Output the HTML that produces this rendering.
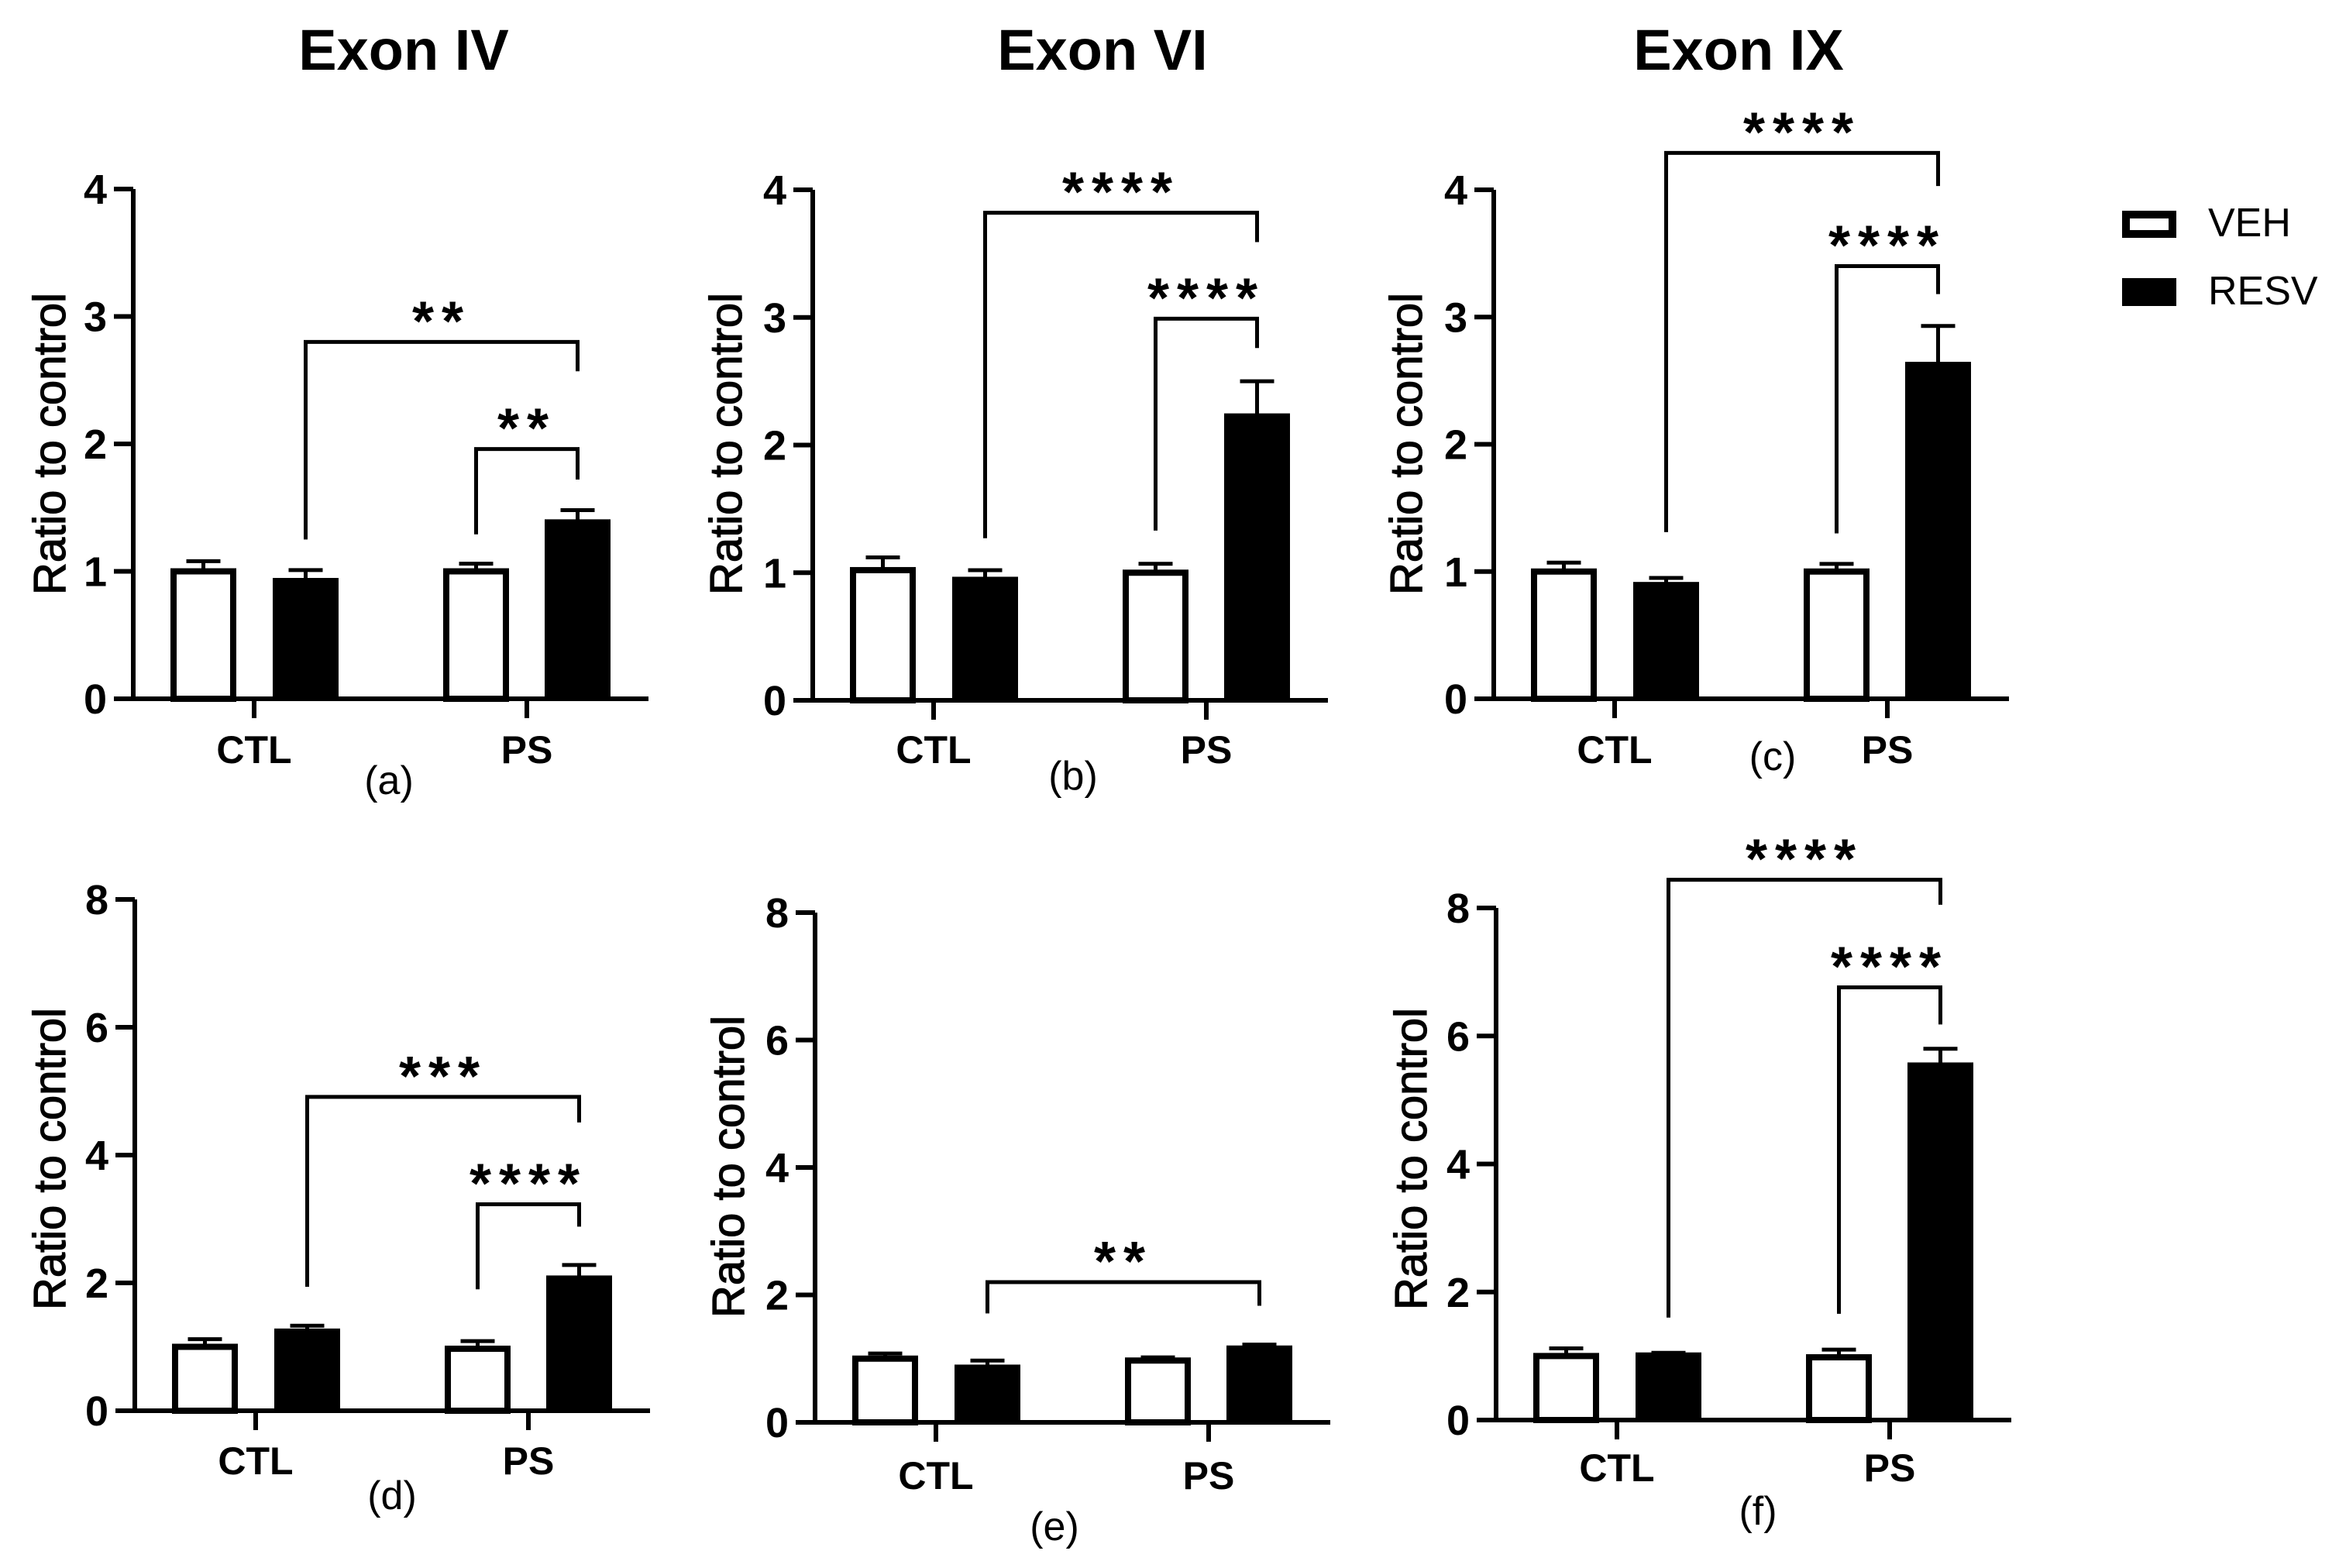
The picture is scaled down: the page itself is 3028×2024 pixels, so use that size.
<!DOCTYPE html>
<html><head><meta charset="utf-8">
<style>
html,body{margin:0;padding:0;background:#fff;}
svg{display:block;font-family:"Liberation Sans",Arial,sans-serif;}
</style></head>
<body>
<svg id="fig" width="3028" height="2024" viewBox="0 0 3028 2024" xmlns="http://www.w3.org/2000/svg">
<text x="521" y="90" font-size="74" font-weight="bold" text-anchor="middle">Exon IV</text>
<text x="1423" y="90" font-size="74" font-weight="bold" text-anchor="middle">Exon VI</text>
<text x="2244" y="90" font-size="74" font-weight="bold" text-anchor="middle">Exon IX</text>
<g>
<rect x="2744" y="277" width="60" height="25" fill="#fff" stroke="#000" stroke-width="10"/>
<text x="2850" y="305" font-size="52">VEH</text>
<rect x="2739" y="359" width="70" height="36" fill="#000"/>
<text x="2850" y="393" font-size="52">RESV</text>
</g>
</svg>
<script>
// Panel data
const categories = ["CTL", "PS"];
const panelIds = ["a", "b", "c", "d", "e", "f"];
const vehValues = [[1.0, 1.0], [1.02, 1.0], [1.0, 1.0], [1.0, 0.97], [1.0, 0.97], [1.0, 0.98]];
const vehErrors = [[0.08, 0.06], [0.1, 0.07], [0.07, 0.06], [0.12, 0.12], [0.08, 0.05], [0.12, 0.12]];
const resvValues = [[0.93, 1.39], [0.95, 2.23], [0.9, 2.63], [1.25, 2.08], [0.87, 1.17], [1.02, 5.55]];
const resvErrors = [[0.08, 0.09], [0.07, 0.27], [0.05, 0.3], [0.08, 0.2], [0.1, 0.05], [0.03, 0.25]];
const yMaxes = [4, 4, 4, 8, 8, 8];
const yTickLabels = [[0,1,2,3,4],[0,1,2,3,4],[0,1,2,3,4],[0,2,4,6,8],[0,2,4,6,8],[0,2,4,6,8]];
// brackets: [fromBar, toBar, topValue, leftBottomValue, rightBottomValue, label]; bars: 0 VEH-CTL,1 RESV-CTL,2 VEH-PS,3 RESV-PS
const bracketsA = [[1,3,2.8,1.25,2.57,"**"],[2,3,1.96,1.29,1.72,"**"]];
const bracketsB = [[1,3,3.82,1.27,3.59,"****"],[2,3,2.99,1.33,2.76,"****"]];
const bracketsC = [[1,3,4.29,1.31,4.03,"****"],[2,3,3.4,1.3,3.18,"****"]];
const bracketsD = [[1,3,4.91,1.94,4.51,"***"],[2,3,3.23,1.9,2.88,"****"]];
const bracketsE = [[1,3,2.2,1.71,1.83,"**"]];
const bracketsF = [[1,3,8.44,1.6,8.05,"****"],[2,3,6.76,1.66,6.18,"****"]];
const allBrackets = [bracketsA, bracketsB, bracketsC, bracketsD, bracketsE, bracketsF];

// layout (not data)
const layout = [
 {ax:172, y0:902, yt:244, lab:[502,1025], ylx:64, yly:573, cy:985},
 {ax:1049, y0:904, yt:245, lab:[1385,1019], ylx:937, yly:573, cy:985},
 {ax:1928, y0:902, yt:245, lab:[2288,994], ylx:1815, yly:573, cy:985},
 {ax:174, y0:1821, yt:1161, lab:[506,1948], ylx:64, yly:1496, cy:1903},
 {ax:1052, y0:1836, yt:1178, lab:[1361,1988], ylx:940, yly:1506, cy:1922},
 {ax:1931, y0:1833, yt:1172, lab:[2269,1968], ylx:1821, yly:1496, cy:1912}
];
const barOffsets = [48, 180, 400, 531];
const barW = 85;
const catOffsets = [156, 508];
const NS = "http://www.w3.org/2000/svg";
const svg = document.getElementById("fig");
function mk(tag, attrs, parent){
  const e = document.createElementNS(NS, tag);
  for (const k in attrs) e.setAttribute(k, attrs[k]);
  (parent||svg).appendChild(e);
  return e;
}
panelIds.forEach((pid, i) => {
  const L = layout[i];
  const yScale = v => L.y0 - v / yMaxes[i] * (L.y0 - L.yt);
  const xBar = b => L.ax + barOffsets[b];
  const g = mk("g", {});
  
  
  const vals = [vehValues[i][0], resvValues[i][0], vehValues[i][1], resvValues[i][1]];
  const errs = [vehErrors[i][0], resvErrors[i][0], vehErrors[i][1], resvErrors[i][1]];
  vals.forEach((v, b) => {
    const isVeh = b % 2 === 0;
    const x = xBar(b), yv = yScale(v);
    const cx = x + barW / 2;
    const ye = yScale(v + errs[b]);
    const eb = mk("path", {d:`M${cx},${yScale(v - (isVeh?errs[b]:0))}V${ye}M${cx-22},${ye}H${cx+22}` + (isVeh?`M${cx-22},${yScale(v-errs[b])}H${cx+22}`:""), stroke:"#000", "stroke-width":5, fill:"none"}, g);
    
    
    let r;
    if (isVeh) r = mk("rect", {x:x+4, y:yv, width:barW-8, height:L.y0-yv, fill:"#fff", stroke:"#000", "stroke-width":8}, g);
    else r = mk("rect", {x:x, y:yv-3, width:barW, height:L.y0-yv+3, fill:"#000"}, g);
    
    
  });
  const ya = mk("line", {x1:L.ax, y1:L.y0, x2:L.ax, y2:L.yt, stroke:"#000", "stroke-width":6}, g);
  
  
  const xa = mk("line", {x1:L.ax-25, y1:L.y0, x2:L.ax+665, y2:L.y0, stroke:"#000", "stroke-width":6}, g);
  
  
  yTickLabels[i].forEach(t => {
    const y = yScale(t);
    const tk = mk("line", {x1:L.ax-25, y1:y, x2:L.ax, y2:y, stroke:"#000", "stroke-width":6}, g);
    
    
    const tl = mk("text", {x:L.ax-34, y:y+19, "font-size":54, "font-weight":"bold", "text-anchor":"end"}, g);
    tl.textContent = t;
    
    
  });
  categories.forEach((c, k) => {
    const x = L.ax + catOffsets[k];
    const tk = mk("line", {x1:x, y1:L.y0, x2:x, y2:L.y0+25, stroke:"#000", "stroke-width":6}, g);
    
    
    const tl = mk("text", {x:x, y:L.cy, "font-size":50, "font-weight":"bold", "text-anchor":"middle"}, g);
    tl.textContent = c;
    
    
  });
  const yl = mk("text", {x:0, y:0, "font-size":58, "text-anchor":"middle", stroke:"#000", "stroke-width":1.2, transform:`translate(${L.ylx+20},${L.yly}) rotate(-90)`}, g);
  yl.textContent = i === 0 ? "Ratio to  control" : "Ratio to control";
  
  
  const pl = mk("text", {x:L.lab[0], y:L.lab[1], "font-size":52, "text-anchor":"middle"}, g);
  pl.textContent = "(" + pid + ")";
  
  
  allBrackets[i].forEach(br => {
    const x1 = xBar(br[0]) + barW/2, x2 = xBar(br[1]) + barW/2;
    const yt = yScale(br[2]);
    const bp = mk("path", {d:`M${x1},${yScale(br[3])}V${yt}H${x2}V${yScale(br[4])}`, stroke:"#000", "stroke-width":5, fill:"none"}, g);
    
    
    const st = mk("text", {x:(x1+x2)/2, y:yt-2, "font-size":72, "font-weight":"bold", "text-anchor":"middle", "letter-spacing":"10"}, g);
    st.textContent = br[5];
    
    
  });
});
</script>
</body></html>
